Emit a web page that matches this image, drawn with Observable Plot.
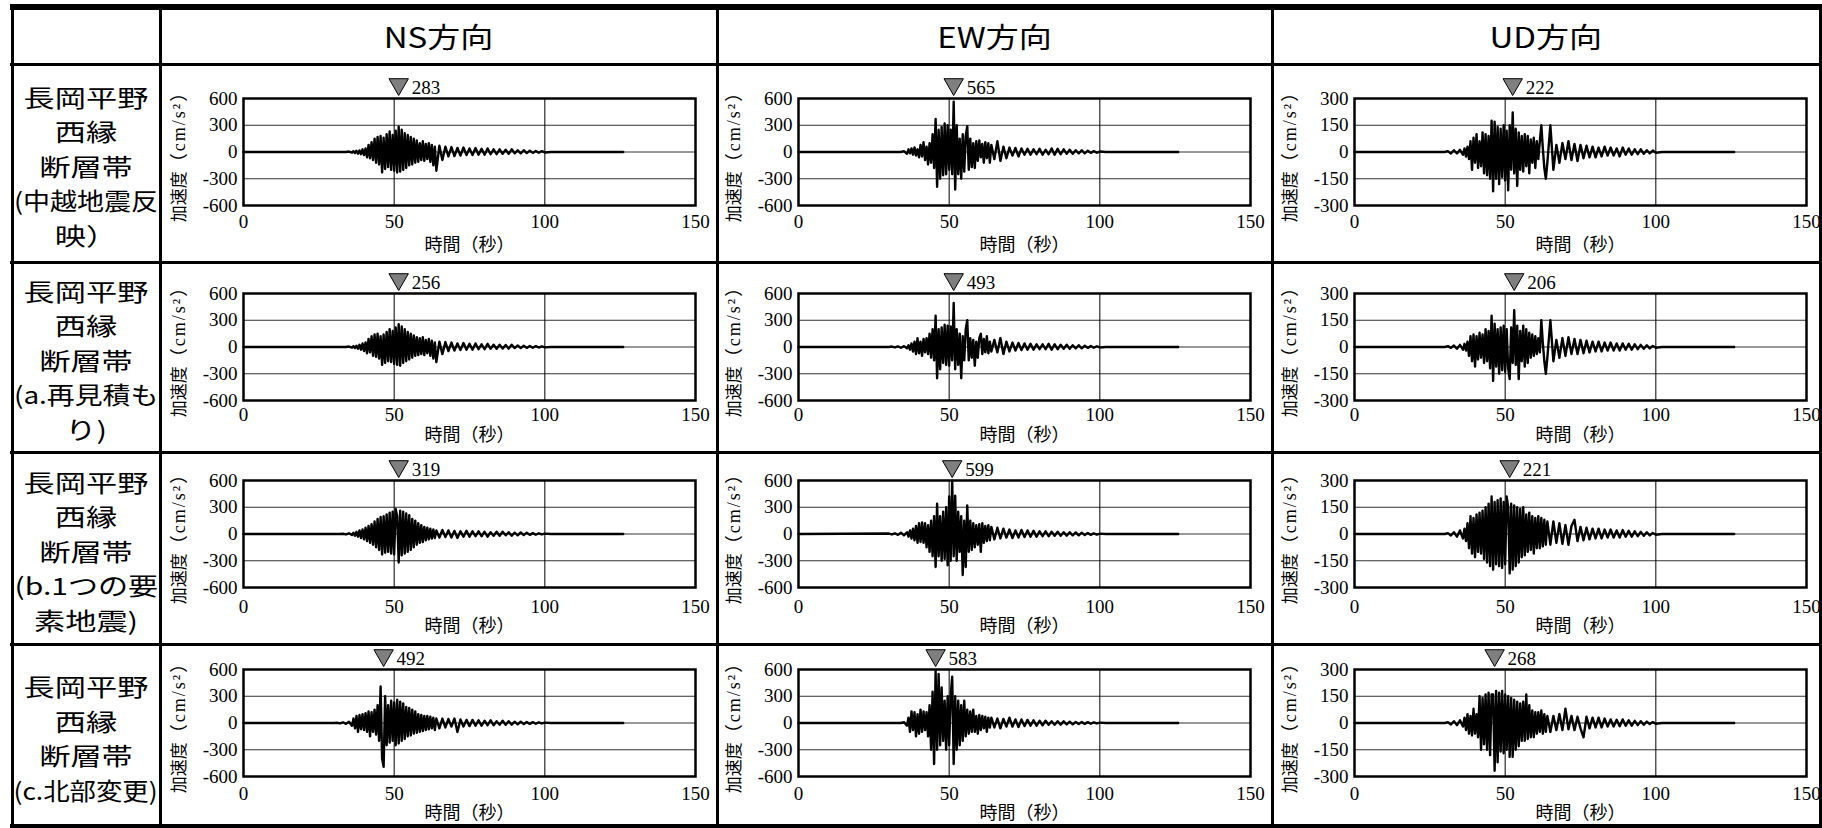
<!DOCTYPE html>
<html><head><meta charset="utf-8">
<script src="https://cdn.jsdelivr.net/npm/d3@7"></script>
<script src="https://cdn.jsdelivr.net/npm/@observablehq/plot@0.6"></script>
<style>
html,body{margin:0;padding:0;background:#fff;overflow:hidden;}
#root{position:relative;width:1822px;height:828px;background:#fff;overflow:hidden;}
.ln{position:absolute;background:#000;}
.pl{position:absolute;}
.pl svg{font-family:"Liberation Serif","Noto Sans CJK JP",serif;font-size:19px;background:none;overflow:visible;}
.hdr{position:absolute;display:flex;align-items:center;justify-content:center;font-family:"Noto Sans CJK JP",sans-serif;font-size:28px;color:#000;white-space:nowrap;}
.lbl{position:absolute;display:flex;flex-direction:column;align-items:center;justify-content:center;font-family:"Noto Sans CJK JP",sans-serif;font-size:24px;color:#000;white-space:nowrap;}
.lbl div{line-height:34.5px;height:34.5px;text-align:center;width:148px;}
.sp{display:inline-block;transform-origin:50% 50%;}
</style></head><body><div id="root"></div>
<script>
// ---------------- DATA ----------------
const components = ["NS方向", "EW方向", "UD方向"];
const rowLabels = [
  ["長岡平野", "西縁", "断層帯", "(中越地震反", "映）"],
  ["長岡平野", "西縁", "断層帯", "(a.再見積も", "り)"],
  ["長岡平野", "西縁", "断層帯", "(b.1つの要", "素地震)"],
  ["長岡平野", "西縁", "断層帯", "(c.北部変更)"]
];
const xTicks = [0, 50, 100, 150];
const yTicksH = [-600, -300, 0, 300, 600];
const yTicksUD = [-300, -150, 0, 150, 300];
const yGridH = [-300, 0, 300];
const yGridUD = [-150, 0, 150];
const xGrid = [50, 100];
const xLabel = "時間（秒）";
const yLabelParts = ["加速度", "（cm/s²）"];
const yLabel = yLabelParts.join("");
const peakValues = [[283, 565, 222], [256, 493, 206], [319, 599, 221], [492, 583, 268]];
const peakTimes = [[51.5, 51.5, 52.5], [51.5, 51.5, 53], [51.5, 51, 51.5], [46.5, 45.5, 46.5]];

// sample times (s)
const tGrid = [
 0, 30, 31, 32, 33, 34, 35,
 36, 36.5, 37, 37.5, 38, 38.5, 39, 39.5, 40, 40.5,
 41, 41.5, 42, 42.5, 43, 43.5, 44, 44.5, 45, 45.5,
 46, 46.5, 47, 47.5, 48, 48.5, 49, 49.5, 50, 50.5,
 51, 51.5, 52, 52.5, 53, 53.5, 54, 54.5, 55, 55.5,
 56, 56.5, 57, 57.5, 58, 58.5, 59, 59.5, 60, 60.5,
 61, 61.5, 62, 62.5, 63, 63.5, 64,
 65, 66, 67, 68, 69, 70, 71, 72, 73, 74,
 75, 76, 77, 78, 79, 80, 81, 82, 83, 84,
 85, 86, 87, 88, 89, 90, 91, 92, 93, 94,
 95, 96, 97, 98, 99, 100,
 102, 126
];

// acceleration (cm/s2) at tGrid
const accNS1 = [
 0, 0, 0, 0, 0, 0, 5,
 -8, 10, -12, 15, -20, 18, -25, 30, -35, 40,
 -60, 80, -70, 110, -90, 150, -120, 170, -140, 180,
 -230, 160, -190, 200, -170, 230, -200, 190, -210, 240,
 -230, 283, -220, 250, -200, 210, -180, 190, -150, 170,
 -140, 150, -120, 130, -110, 100, -90, 120, -100, 90,
 -80, 100, -110, 80, -150, 60, -210,
 70, -90, 60, -50, 55, -45, 45, -40, 50, -35,
 40, -35, 45, -30, 35, -30, 40, -25, 30, -25,
 30, -20, 25, -20, 30, -15, 20, -15, 20, -12,
 15, -10, 12, -8, 10, -5,
 0, 0];
const accEW1 = [
 0, 0, 0, 0, 0, 0, 10,
 -20, 30, -15, 40, -30, 50, -40, 30, -60, 80,
 -50, 110, -90, 60, -140, 100, -120, 200, -180, 370,
 -390, 250, -300, 280, -260, 320, -250, 300, -200, 250,
 -250, 565, -420, 300, -250, 150, -300, 200, -220, 180,
 290, -200, 150, -170, 100, -180, 120, -100, 130, -60,
 90, -120, 110, -70, 100, -120, 80,
 -80, 120, -100, 60, -70, 50, -40, 45, -50, 40,
 -30, 35, -30, 30, -25, 35, -30, 25, -25, 40,
 -30, 35, -25, 30, -20, 25, -20, 20, -15, 20,
 -15, 15, -10, 12, -8, 5,
 0, 0];
const accUD1 = [
 0, 0, 5, -8, 10, -8, 12,
 -15, 20, -25, 30, -40, 60, -100, 80, -60, 100,
 -90, 60, -80, 110, -120, 100, -130, 90, -150, 175,
 -220, 170, -150, 140, -180, 130, -140, 150, -160, 120,
 -215, 150, -100, 222, -120, 130, -190, 110, -100, 90,
 -110, 100, -80, 90, -120, 70, -60, 80, -90, 60,
 -40, 60, 150, 20, -90, -150, -60,
 150, -100, 40, -60, 50, -40, 60, -45, 45, -50,
 40, -35, 35, -30, 30, -30, 25, -25, 30, -20,
 25, -20, 20, -25, 25, -15, 20, -15, 15, -12,
 15, -10, 10, -8, 8, -5,
 0, 0];
const accNS2 = [
 0, 0, 0, 0, 0, 0, 5,
 -8, 10, -12, 15, -20, 25, -30, 40, -45, 50,
 -70, 90, -60, 120, -100, 140, -110, 150, -130, 120,
 -200, 140, -180, 170, -160, 200, -170, 180, -190, 220,
 -200, 256, -210, 230, -180, 200, -160, 170, -140, 150,
 -120, 130, -100, 110, -90, 100, -80, 110, -90, 80,
 -70, 90, -100, 70, -130, 50, -170,
 60, -80, 55, -45, 50, -40, 40, -35, 45, -30,
 35, -30, 40, -25, 30, -25, 35, -20, 25, -20,
 25, -18, 22, -18, 25, -12, 18, -12, 15, -10,
 12, -8, 10, -6, 8, -4,
 0, 0];
const accEW2 = [
 0, 0, 5, -5, 8, -8, 10,
 -15, 20, -30, 40, -50, 60, -80, 100, -70, 60,
 -100, 90, -60, 100, -80, 150, -120, 200, -150, 350,
 -350, 200, -250, 220, -180, 250, -200, 240, -210, 230,
 -150, 493, -250, 200, -200, 150, -350, 120, -150, 200,
 300, -150, 100, -120, 80, -210, 60, -120, 100, 150,
 -80, 90, -60, 120, -70, 60, -50,
 80, -60, 100, -80, 60, -50, 50, -40, 45, -35,
 40, -30, 35, -30, 30, -25, 30, -25, 35, -30,
 30, -25, 25, -20, 25, -20, 20, -15, 20, -15,
 15, -10, 12, -8, 8, -5,
 0, 0];
const accUD2 = [
 0, 0, 5, -5, 8, -10, 12,
 -15, 18, -20, 30, -50, 60, -80, 70, -110, 60,
 -70, 80, -60, 70, -90, 100, -80, 90, -120, 175,
 -190, 130, -110, 100, -150, 110, -130, 120, -140, 100,
 -120, -180, 110, -90, 206, -100, 120, -180, 90, -80,
 120, -110, 100, -90, 80, -60, 70, -50, 60, -40,
 50, -30, 150, 20, -80, -150, -60,
 150, -80, 40, -60, 50, -50, 55, -40, 45, -40,
 40, -35, 35, -30, 30, -25, 30, -25, 25, -20,
 25, -20, 20, -20, 20, -15, 18, -15, 15, -12,
 12, -10, 10, -8, 6, -4,
 0, 0];
const accNS3 = [
 0, 0, 0, 0, 3, -5, 8,
 -12, 15, -20, 25, -30, 40, -45, 50, -60, 70,
 -80, 90, -100, 110, -120, 140, -150, 170, -180, 190,
 -230, 200, -210, 220, -200, 240, -220, 250, -230, 280,
 200, -319, 260, -240, 250, -220, 230, -200, 210, -180,
 170, -150, 150, -120, 120, -100, 100, -90, 80, -70,
 70, -60, 60, -50, 50, -45, 40,
 -40, 45, -35, 40, -40, 35, -45, 30, -30, 35,
 -30, 30, -25, 30, -25, 25, -30, 20, -20, 25,
 -20, 25, -15, 20, -20, 15, -15, 18, -12, 15,
 -10, 10, -8, 8, -5, 4,
 0, 0];
const accEW3 = [
 0, 5, -5, 8, -10, 15, -15,
 20, -30, 40, -50, 60, -70, 90, -100, 120, -90,
 130, -100, 120, -150, 100, -200, 150, -250, 200, -370,
 340, -250, 200, -300, 250, -280, 300, -350, 420, -300,
 599, -250, 430, -300, 250, -200, 200, -460, 150, -370,
 320, -200, 150, -180, 120, -150, 100, -120, 110, -200,
 120, -100, 90, -80, 100, -70, 80,
 -60, 70, -50, 60, -40, 50, -45, 40, -40, 45,
 -35, 40, -30, 35, -30, 30, -25, 30, -25, 25,
 -20, 25, -20, 20, -18, 20, -15, 18, -15, 15,
 -12, 12, -10, 8, -6, 4,
 0, 0];
const accUD3 = [
 0, 0, 5, -8, 10, -15, 20,
 -25, 30, -40, 60, -80, 100, -110, 90, -130, 110,
 -100, 120, -110, 130, -140, 150, -160, 170, -180, 210,
 -200, 180, -170, 190, -180, 200, -190, 180, -170, 210,
 150, -221, 170, -200, 160, -180, 150, -160, 140, -130,
 150, -120, 110, -100, 120, -90, 100, -110, 90, -80,
 100, -80, 90, -70, 80, -60, 70,
 -60, 70, -50, 60, -55, 50, -60, 45, 80, -40,
 40, -35, 35, -30, 30, -25, 30, -25, 25, -20,
 25, -20, 20, -20, 22, -15, 18, -15, 15, -12,
 12, -10, 10, -8, 6, -4,
 0, 0];
const accNS4 = [
 0, 0, 3, -5, 8, -10, 15,
 -30, 50, -60, 80, -100, 90, -70, 100, -80, 110,
 -100, 130, -150, 120, -100, 150, -130, 200, -200, 410,
 -400, -492, 300, -250, 200, -220, 250, -200, 230, -250,
 260, -230, 240, -200, 220, -180, 180, -150, 170, -140,
 150, -120, 130, -110, 100, -100, 90, -90, 80, -80,
 80, -70, 70, -60, 60, -80, 50,
 -60, 50, -50, 45, -40, 50, -100, 40, -40, 35,
 -35, 35, -30, 30, -30, 25, -25, 30, -25, 20,
 -20, 25, -20, 20, -18, 15, -15, 15, -12, 12,
 -10, 10, -8, 8, -5, 4,
 0, 0];
const accEW4 = [
 0, 0, 0, 0, 0, 0, 10,
 -30, 60, -100, 130, -80, 120, -150, 100, -120, 150,
 -100, 130, -80, 120, -150, 200, -300, 350, -460, 583,
 -300, 550, -250, 400, -200, 250, -300, 300, -250, 300,
 520, -460, 300, -300, 250, -250, 200, -200, 250, -150,
 150, -120, 130, -100, 150, -100, 80, -120, 90, -80,
 80, -60, 70, -100, 60, -50, 60,
 -50, 50, -60, 45, -40, 60, -40, 40, -45, 40,
 -35, 35, -30, 30, -30, 25, -25, 25, -20, 20,
 -20, 20, -18, 18, -15, 15, -15, 12, -12, 12,
 -10, 10, -8, 8, -5, 4,
 0, 0];
const accUD4 = [
 0, 0, 5, -8, 10, -12, 15,
 -20, 30, -40, 50, -60, 40, -70, 80, -60, 50,
 -80, 150, -150, 140, -120, 160, -150, 170, -180, 160,
 160, -268, 180, -220, 170, -160, 180, -170, 160, -150,
 150, -190, 140, -190, 130, -150, 120, -130, 110, -100,
 120, -100, 160, -90, 100, -80, 70, -80, 60, -60,
 60, -50, 70, -60, 50, -50, 40,
 -50, 40, -40, 50, -40, 80, -35, 40, -40, 35,
 -30, -80, 35, -30, 30, -25, 30, -25, 25, -20,
 20, -20, 18, -18, 20, -15, 15, -15, 12, -12,
 10, -10, 8, -6, 5, -4,
 0, 0];

const traces = [
  [accNS1, accEW1, accUD1],
  [accNS2, accEW2, accUD2],
  [accNS3, accEW3, accUD3],
  [accNS4, accEW4, accUD4]
];

// ---------------- LAYOUT ----------------
const root = document.getElementById("root");
const colEdges = [12, 160, 717, 1272, 1820];
const rowEdges = [7, 64, 262, 452, 644, 826];
const frameLeft = [243, 798, 1354];
const frameTop = [98, 293, 480, 669];
const frameW = 452, frameH = 107;
const xTickPad = [9, 7, 12, 10];
const xLabelDy = [45, 40, 44, 42];
const serif = "'Liberation Serif', 'Noto Sans CJK JP', serif";
const SVGNS = "http://www.w3.org/2000/svg";

const triDown = {
  draw(ctx, size) {
    const s = Math.sqrt(size * 4 / Math.sqrt(3));
    const h = s * Math.sqrt(3) / 2;
    ctx.moveTo(-s / 2, -h);
    ctx.lineTo(s / 2, -h);
    ctx.lineTo(0, 0);
    ctx.closePath();
  }
};

function makePlot(r, c) {
  const isUD = c === 2;
  const yMax = isUD ? 300 : 600;
  const acc = traces[r][c];
  const data = tGrid.map((t, i) => ({t, a: acc[i]})).filter(d => d.a !== undefined);
  const peak = [{t: peakTimes[r][c], v: peakValues[r][c]}];
  const ml = 92, mr = 16, mt = 24, mb = 54;
  const svg = Plot.plot({
    width: frameW + ml + mr,
    height: frameH + mt + mb,
    marginLeft: ml, marginRight: mr, marginTop: mt, marginBottom: mb,
    style: "font-family: 'Liberation Serif', 'Noto Sans CJK JP', serif; font-size: 19px; background: none; overflow: visible; color: #000;",
    x: {domain: [0, 150], ticks: xTicks, tickSize: 0, tickPadding: xTickPad[r], tickFormat: d => String(d), label: null},
    y: {domain: [-yMax, yMax], ticks: isUD ? yTicksUD : yTicksH, tickSize: 0, tickPadding: 6, tickFormat: d => String(d), label: null},
    marks: [
      Plot.ruleY(isUD ? yGridUD : yGridH, {stroke: "#333", strokeWidth: 1}),
      Plot.ruleX(xGrid, {stroke: "#000", strokeWidth: 1}),
      Plot.line(data, {x: "t", y: "a", stroke: "#000", strokeWidth: 2.4}),
      Plot.frame({stroke: "#000", strokeWidth: 2.5}),
      Plot.dot(peak, {x: "t", y: () => yMax, symbol: triDown, r: 7.2, fill: "#7f7f7f", stroke: "#000", strokeWidth: 1, dy: -3}),
      Plot.text(peak, {x: "t", y: () => yMax, text: d => String(d.v), dx: 13, dy: -11, textAnchor: "start", fontSize: 19, fontFamily: serif}),
      Plot.text([xLabel], {frameAnchor: "bottom", text: d => d, textAnchor: "middle", dy: xLabelDy[r], fontSize: 18, fontFamily: "'Noto Sans CJK JP', sans-serif"}),
      Plot.text([yLabel], {frameAnchor: "left", text: d => d, textAnchor: "middle", lineAnchor: "middle", rotate: -90, dx: -64, fontSize: 18, fontFamily: serif})
    ]
  });
  svg.style.fontFamily = serif;
  svg.style.fontSize = "19px";
  // style the y label: gothic kanji + spaced serif unit
  svg.querySelectorAll("text").forEach(t => {
    if (t.textContent === yLabel) {
      while (t.firstChild) t.removeChild(t.firstChild);
      const a = document.createElementNS(SVGNS, "tspan");
      a.setAttribute("font-family", "'Noto Sans CJK JP', sans-serif");
      a.setAttribute("font-size", "17");
      a.textContent = yLabelParts[0];
      const b = document.createElementNS(SVGNS, "tspan");
      b.setAttribute("font-family", serif);
      b.setAttribute("font-size", "18");
      b.style.letterSpacing = "2px";
      b.textContent = yLabelParts[1];
      t.appendChild(a);
      t.appendChild(b);
    }
  });
  const div = document.createElement("div");
  div.className = "pl";
  div.style.left = (frameLeft[c] - ml) + "px";
  div.style.top = (frameTop[r] - mt) + "px";
  div.style.width = (frameW + ml + mr) + "px";
  div.appendChild(svg);
  root.appendChild(div);
}

for (let r = 0; r < 4; r++) for (let c = 0; c < 3; c++) makePlot(r, c);

// headers
components.forEach((name, c) => {
  const d = document.createElement("div");
  d.className = "hdr";
  d.style.left = colEdges[c + 1] + "px";
  d.style.width = (colEdges[c + 2] - colEdges[c + 1]) + "px";
  d.style.top = rowEdges[0] + "px";
  d.style.height = (rowEdges[1] - rowEdges[0]) + "px";
  const s = document.createElement("span");
  s.className = "sp";
  s.textContent = name;
  s.style.transform = "scaleX(1.18)";
  d.appendChild(s);
  root.appendChild(d);
});

// row labels
rowLabels.forEach((lines, r) => {
  const d = document.createElement("div");
  d.className = "lbl";
  d.style.left = colEdges[0] + "px";
  d.style.width = (colEdges[1] - colEdges[0]) + "px";
  d.style.top = (rowEdges[r + 1] + 3) + "px";
  d.style.height = (rowEdges[r + 2] - rowEdges[r + 1]) + "px";
  lines.forEach(t => {
    const ln = document.createElement("div");
    const s = document.createElement("span");
    s.className = "sp";
    s.textContent = t;
    ln.appendChild(s);
    d.appendChild(ln);
  });
  root.appendChild(d);
  d.querySelectorAll(".sp").forEach(s => {
    const w = s.offsetWidth;
    const k = Math.min(1.3, 144 / w);
    s.style.transform = "scaleX(" + k + ")";
  });
});

// table rules
function hline(x1, x2, y, th) {
  const d = document.createElement("div");
  d.className = "ln";
  Object.assign(d.style, {left: x1 + "px", top: (y - th / 2) + "px", width: (x2 - x1) + "px", height: th + "px"});
  root.appendChild(d);
}
function vline(x, y1, y2, th) {
  const d = document.createElement("div");
  d.className = "ln";
  Object.assign(d.style, {left: (x - th / 2) + "px", top: y1 + "px", width: th + "px", height: (y2 - y1) + "px"});
  root.appendChild(d);
}
hline(10, 1822, 7, 6);
[64, 262, 452, 644].forEach(y => hline(10, 1822, y, 3));
hline(10, 1822, 826, 4);
colEdges.forEach(x => vline(x, 4, 828, 3));
</script></body></html>
